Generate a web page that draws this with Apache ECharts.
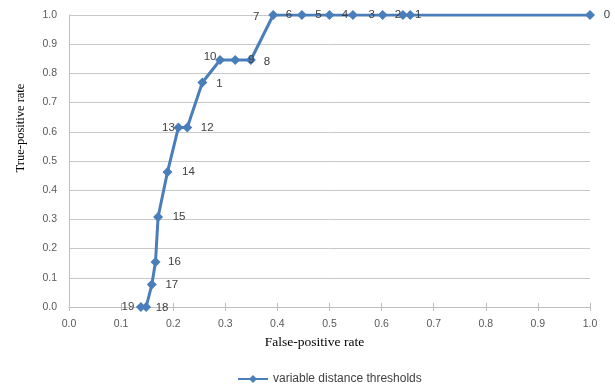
<!DOCTYPE html>
<html><head><meta charset="utf-8">
<script src="https://cdn.jsdelivr.net/npm/echarts@6/dist/echarts.min.js"></script>
<style>html,body{margin:0;padding:0;background:#fff}#c{width:615px;height:390px}</style>
</head><body><div id="c"></div>
<script>
// Threshold labels as printed next to each point (in order of increasing FPR)
const thresholdLabels = ['19','18','17','16','15','14','13','12','1','10','9','8','7','6','5','4','3','2','1','0'];
const falsePositiveRate = [0.138,0.148,0.159,0.166,0.171,0.189,0.210,0.227,0.256,0.290,0.319,0.349,0.392,0.447,0.500,0.545,0.602,0.641,0.655,1.0];
const truePositiveRate  = [0,0,0.077,0.154,0.308,0.462,0.615,0.615,0.769,0.846,0.846,0.846,1,1,1,1,1,1,1,1];
const seriesName = 'variable distance thresholds';

// label placement (style only): offset of each label from its point
const labelOffsets = [[-13,0],[16,1],[20,0],[19,0],[21,0],[21,0],[-10,0],[20,0],[17,1],[-10,-3],[16,0],[16,2],[-17,2],[-13,0],[-11,0],[-8,0],[-11,0],[-5,0],[8,0],[17,0]];

const data = falsePositiveRate.map((x, i) => ({
  value: [x, truePositiveRate[i]],
  name: thresholdLabels[i],
  label: { offset: labelOffsets[i] }
}));

const sans = 'Liberation Sans, Arial, sans-serif';
const serif = 'Liberation Serif, Times New Roman, serif';
const chart = echarts.init(document.getElementById('c'), null, {renderer: 'canvas'});
const axisLabelStyle = { color: '#595959', fontFamily: sans, fontSize: 10.5, formatter: v => v.toFixed(1) };
chart.setOption({
  animation: false,
  backgroundColor: '#fff',
  grid: { left: 69, right: 25, top: 15, bottom: 83, containLabel: false },
  xAxis: [{
    type: 'value', min: 0, max: 1, interval: 0.1,
    name: 'False-positive rate', nameLocation: 'middle', nameGap: 28,
    nameTextStyle: { fontFamily: serif, fontSize: 13.5, color: '#000', padding: [0, 30, 0, 0] },
    axisLine: { show: true, lineStyle: { color: '#bfbfbf', width: 1 } },
    axisTick: { show: true, length: 4, lineStyle: { color: '#bfbfbf' } },
    axisLabel: Object.assign({ margin: 12 }, axisLabelStyle),
    splitLine: { show: false }
  }, {
    type: 'value', min: 0, max: 1, interval: 0.1, position: 'bottom',
    axisLine: { show: false },
    axisTick: { show: true, inside: true, length: 4, lineStyle: { color: '#bfbfbf' } },
    axisLabel: { show: false }, splitLine: { show: false }
  }],
  yAxis: {
    type: 'value', min: 0, max: 1, interval: 0.1,
    name: 'True-positive rate', nameLocation: 'middle', nameGap: 42,
    nameTextStyle: { fontFamily: serif, fontSize: 12.5, color: '#000', padding: [0, 0, 0, 66] },
    axisLine: { show: true, lineStyle: { color: '#bfbfbf', width: 1 } },
    axisTick: { show: false },
    axisLabel: Object.assign({ margin: 12 }, axisLabelStyle),
    splitLine: { show: true, lineStyle: { color: '#c8c8c8', width: 1 } }
  },
  legend: {
    bottom: 0, left: 232, itemWidth: 30, itemHeight: 10, itemGap: 10,
    textStyle: { fontFamily: sans, fontSize: 12, color: '#404040' },
    data: [seriesName]
  },
  series: [{
    name: seriesName, type: 'line', data: data,
    symbol: 'diamond', symbolSize: 10,
    itemStyle: { color: '#4a7ebb' },
    lineStyle: { color: '#4a7ebb', width: 3 },
    label: {
      show: true, position: 'inside', formatter: p => p.name,
      fontFamily: sans, fontSize: 11.5, color: '#404040'
    }
  }]
});
</script></body></html>
